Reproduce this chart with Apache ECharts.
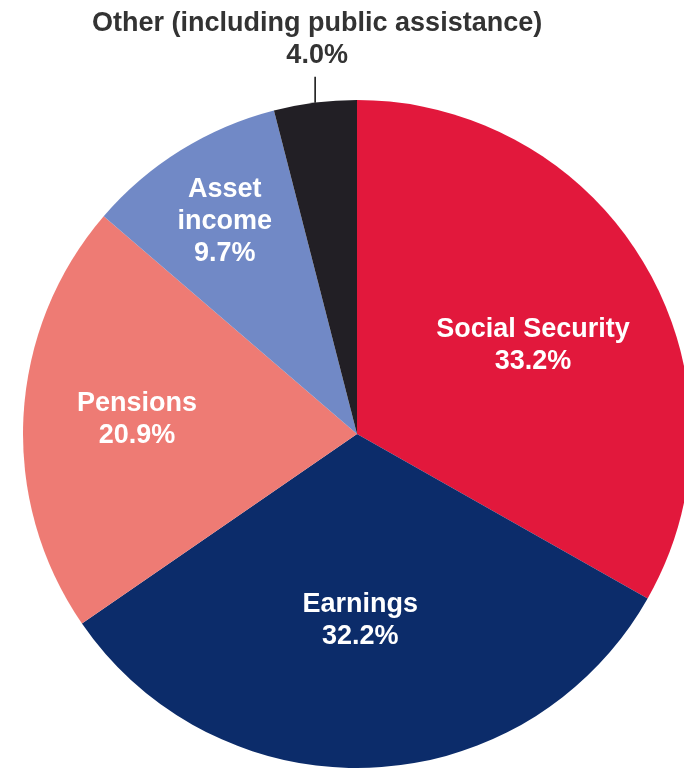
<!DOCTYPE html>
<html>
<head>
<meta charset="utf-8">
<script src="https://cdn.jsdelivr.net/npm/echarts@6/dist/echarts.min.js"></script>
<style>
  html, body { margin: 0; padding: 0; background: #ffffff; }
  #chart { width: 684px; height: 769px; }
</style>
</head>
<body>
<div id="chart"></div>
<script>
// Income sources, share of total (%)
const categories = ['Social Security', 'Earnings', 'Pensions', 'Asset income', 'Other (including public assistance)'];
const shares = [33.2, 32.2, 20.9, 9.7, 4.0];
const labelNames = ['Social Security', 'Earnings', 'Pensions', 'Asset\nincome', 'Other (including public assistance)'];

// Presentation settings
const sliceColors = ['#E2183C', '#0C2C6A', '#EE7B74', '#7189C6', '#221F25'];
const labelRadius = [0.59, 0.56, 0.66, 0.75, null]; // fraction of pie radius; null = outside with leader
const labelTurn = [-3.5, -1.5, -0.7, 0, 0];          // small angular nudge of each label, degrees
const CX = 357, CY = 434, R = 334;

const total = shares.reduce((s, v) => s + v, 0);

// Mid angle (radians, counter-clockwise from +x) of slice i, slices running clockwise from 12 o'clock
function midAngle(i) {
  let before = 0;
  for (let j = 0; j < i; j++) before += shares[j];
  const mid = before + shares[i] / 2;
  return (90 - (mid / total) * 360) * Math.PI / 180;
}

const chart = echarts.init(document.getElementById('chart'), null, { renderer: 'canvas' });

const data = categories.map((name, i) => {
  const inside = labelRadius[i] !== null;
  return {
    name: name,
    value: shares[i],
    itemStyle: { color: sliceColors[i] },
    label: {
      show: true,
      position: inside ? 'inside' : 'outside',
      color: inside ? '#ffffff' : '#333333'
    },
    labelLine: {
      show: !inside,
      length: 26,
      length2: 0,
      lineStyle: { color: '#1a1a1a', width: 1.6 }
    }
  };
});

chart.setOption({
  animation: false,
  backgroundColor: '#ffffff',
  series: [{
    type: 'pie',
    center: [CX, CY],
    radius: [0, R],
    startAngle: 90,
    clockwise: true,
    avoidLabelOverlap: false,
    silent: true,
    itemStyle: { borderWidth: 0 },
    label: {
      fontFamily: '"Liberation Sans", Arial, sans-serif',
      fontWeight: 'bold',
      fontSize: 27,
      lineHeight: 32,
      align: 'center',
      formatter: p => labelNames[p.dataIndex] + '\n' + shares[p.dataIndex].toFixed(1) + '%'
    },
    emphasis: { disabled: true },
    labelLayout: function (p) {
      const i = p.dataIndex;
      const a = midAngle(i) + labelTurn[i] * Math.PI / 180;
      if (labelRadius[i] !== null) {
        const r = R * labelRadius[i];
        return {
          x: CX + r * Math.cos(a),
          y: CY - r * Math.sin(a),
          align: 'center',
          verticalAlign: 'middle'
        };
      }
      const ex = CX + R * Math.cos(a);
      const ey = CY - R * Math.sin(a);
      return {
        x: ex + 2,
        y: ey - 31,
        align: 'center',
        verticalAlign: 'bottom',
        labelLinePoints: [[ex, ey], [ex, ey - 13], [ex, ey - 26]]
      };
    },
    data: data
  }]
});
</script>
</body>
</html>
